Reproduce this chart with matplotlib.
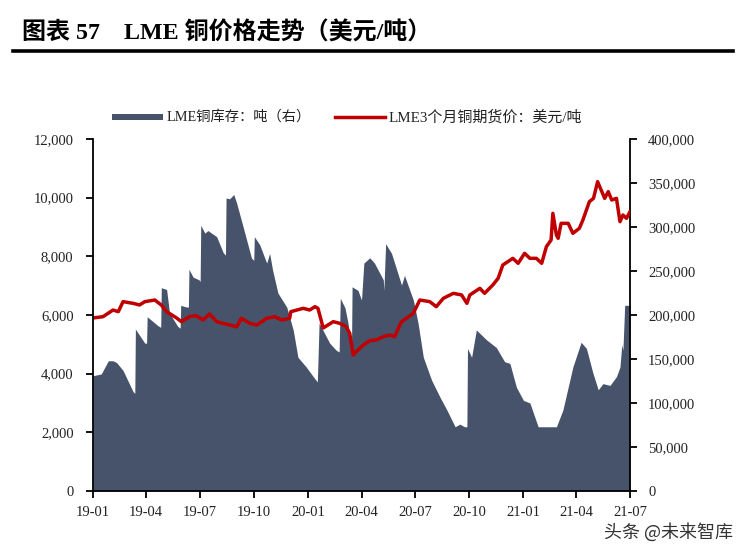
import matplotlib
matplotlib.use("Agg")
import matplotlib.pyplot as plt
import matplotlib.dates as mdates
from matplotlib.ticker import FuncFormatter, MultipleLocator
from matplotlib.lines import Line2D
from matplotlib.patches import Rectangle
import pandas as pd

# ---------------- data ----------------
stock_dates = [
    "2019-01-01", "2019-01-15", "2019-01-27", "2019-02-04", "2019-02-10", "2019-02-21",
    "2019-03-10", "2019-03-13", "2019-03-14", "2019-03-30", "2019-04-02", "2019-04-03",
    "2019-04-21", "2019-04-26", "2019-04-27", "2019-05-06", "2019-05-11", "2019-05-25",
    "2019-05-29", "2019-05-30", "2019-06-09", "2019-06-12", "2019-06-13", "2019-06-20",
    "2019-06-30", "2019-07-02", "2019-07-03", "2019-07-10", "2019-07-15", "2019-07-30",
    "2019-08-10", "2019-08-14", "2019-08-15", "2019-08-21", "2019-08-28", "2019-09-02",
    "2019-09-13", "2019-09-27", "2019-10-01", "2019-10-02", "2019-10-11", "2019-10-23",
    "2019-10-28", "2019-11-02", "2019-11-11", "2019-11-26", "2019-12-07", "2019-12-15",
    "2019-12-29", "2020-01-10", "2020-01-17", "2020-01-20", "2020-01-27", "2020-02-07",
    "2020-02-18", "2020-02-23", "2020-02-25", "2020-03-04", "2020-03-09", "2020-03-15",
    "2020-03-16", "2020-03-26", "2020-04-01", "2020-04-05", "2020-04-15", "2020-04-23",
    "2020-05-08", "2020-05-09", "2020-05-12", "2020-05-22", "2020-06-08", "2020-06-13",
    "2020-06-28", "2020-07-06", "2020-07-15", "2020-07-29", "2020-08-12", "2020-08-24",
    "2020-09-07", "2020-09-15", "2020-09-23", "2020-09-27", "2020-09-28", "2020-10-05",
    "2020-10-13", "2020-10-30", "2020-11-16", "2020-11-30", "2020-12-09", "2020-12-20",
    "2021-01-01", "2021-01-12", "2021-01-26", "2021-02-09", "2021-02-26", "2021-03-09",
    "2021-03-26", "2021-04-09", "2021-04-18", "2021-04-29", "2021-05-08", "2021-05-16",
    "2021-05-28", "2021-06-08", "2021-06-14", "2021-06-17", "2021-06-19", "2021-06-22",
    "2021-07-01",
]
stock_tons = [
    131000, 133000, 148000, 148000, 146000, 137000,
    113000, 111000, 184000, 168000, 168000, 198000,
    188000, 186000, 231000, 229000, 202000, 187000,
    185000, 211000, 209000, 209000, 252000, 243000,
    240000, 238000, 302000, 293000, 296000, 289000,
    271000, 268000, 333000, 332000, 337000, 327000,
    300000, 265000, 262000, 289000, 280000, 259000,
    270000, 251000, 225000, 209000, 183000, 152000,
    141000, 130000, 124000, 191000, 182000, 168000,
    160000, 158000, 219000, 208000, 191000, 160000,
    232000, 228000, 217000, 259000, 265000, 259000,
    240000, 228000, 281000, 270000, 234000, 245000,
    217000, 191000, 152000, 126000, 107000, 92000,
    73000, 76000, 73000, 73000, 162000, 152000,
    183000, 172000, 163000, 147000, 145000, 118000,
    103000, 100000, 73000, 73000, 73000, 92000,
    141000, 169000, 162000, 134000, 115000, 122000,
    120000, 130000, 141000, 166000, 160000, 211000,
    211000,
]

price_dates = [
    "2019-01-01", "2019-01-18", "2019-02-04", "2019-02-13", "2019-02-21", "2019-03-10",
    "2019-03-21", "2019-03-30", "2019-04-16", "2019-04-27", "2019-05-06", "2019-05-23",
    "2019-05-31", "2019-06-14", "2019-06-25", "2019-07-07", "2019-07-18", "2019-07-30",
    "2019-08-07", "2019-08-21", "2019-09-02", "2019-09-10", "2019-09-24", "2019-10-06",
    "2019-10-23", "2019-11-06", "2019-11-17", "2019-12-01", "2019-12-03", "2019-12-24",
    "2020-01-04", "2020-01-13", "2020-01-18", "2020-01-27", "2020-02-13", "2020-02-24",
    "2020-03-06", "2020-03-12", "2020-03-18", "2020-03-23", "2020-04-04", "2020-04-15",
    "2020-04-26", "2020-05-08", "2020-05-19", "2020-05-27", "2020-06-08", "2020-06-28",
    "2020-07-09", "2020-07-26", "2020-08-06", "2020-08-18", "2020-09-04", "2020-09-18",
    "2020-09-27", "2020-10-02", "2020-10-19", "2020-10-27", "2020-11-10", "2020-11-19",
    "2020-11-27", "2020-12-14", "2020-12-23", "2021-01-03", "2021-01-12", "2021-01-23",
    "2021-02-01", "2021-02-09", "2021-02-17", "2021-02-20", "2021-02-26", "2021-03-01",
    "2021-03-06", "2021-03-18", "2021-03-26", "2021-04-06", "2021-04-12", "2021-04-23",
    "2021-04-30", "2021-05-07", "2021-05-13", "2021-05-19", "2021-05-25", "2021-05-31",
    "2021-06-08", "2021-06-14", "2021-06-19", "2021-06-25", "2021-07-01",
]
price_usd = [
    5898, 5943, 6170, 6114, 6455, 6398,
    6341, 6455, 6511, 6341, 6114, 5898,
    5773, 5943, 5977, 5830, 6034, 5773,
    5727, 5659, 5602, 5886, 5716, 5659,
    5886, 5943, 5830, 5886, 6114, 6228,
    6170, 6284, 6228, 5557, 5773, 5716,
    5602, 5375, 4636, 4750, 4977, 5125,
    5148, 5261, 5318, 5261, 5773, 6057,
    6511, 6455, 6284, 6569, 6739, 6682,
    6398, 6682, 6910, 6739, 7023, 7250,
    7705, 7932, 7762, 8103, 7932, 7932,
    7762, 8330, 8557, 9466, 8727, 8615,
    9125, 9125, 8785, 8955, 9239, 9864,
    9977, 10545, 10261, 9977, 10205, 9920,
    9977, 9182, 9409, 9295, 9523,
]

x_tick_dates = ["2019-01-01", "2019-04-01", "2019-07-01", "2019-10-01", "2020-01-01",
                "2020-04-01", "2020-07-01", "2020-10-01", "2021-01-01", "2021-04-01",
                "2021-07-01"]

title_text = "图表 57    LME 铜价格走势（美元/吨）"
legend_stock = "LME铜库存：吨（右）"
legend_price = "LME3个月铜期货价：美元/吨"
watermark = "头条 @未来智库"

# ---------------- style ----------------
SERIF = ["Liberation Serif", "Noto Sans CJK SC", "DejaVu Sans"]
plt.rcParams["font.family"] = SERIF
FILL = "#46536a"
RED = "#c00000"
W, H = 747, 558

fig = plt.figure(figsize=(7.47, 5.58), dpi=100)
ax = fig.add_axes([93 / W, 1 - 491 / H, (630 - 93) / W, (491 - 139) / H])
ax2 = ax.twinx()

sd = pd.to_datetime(stock_dates)
pdt = pd.to_datetime(price_dates)

ax2.fill_between(sd, stock_tons, 0, color=FILL, linewidth=0)
ax.plot(pdt, price_usd, color=RED, linewidth=2.5, solid_joinstyle="round")

ax.set_zorder(ax2.get_zorder() + 1)
ax.patch.set_visible(False)

ax.set_xlim(pd.Timestamp("2019-01-01"), pd.Timestamp("2021-07-01"))
ax.set_ylim(0, 12000)
ax2.set_ylim(0, 400000)
ax.yaxis.set_major_locator(MultipleLocator(2000))
ax2.yaxis.set_major_locator(MultipleLocator(50000))
comma = FuncFormatter(lambda v, p: f"{int(v):,}")
ax.yaxis.set_major_formatter(comma)
ax2.yaxis.set_major_formatter(comma)
ax.set_xticks(pd.to_datetime(x_tick_dates))
ax.xaxis.set_major_formatter(mdates.DateFormatter("%y-%m"))

for a in (ax, ax2):
    a.spines["top"].set_visible(False)
    for s in ("left", "right", "bottom"):
        a.spines[s].set_color("black")
        a.spines[s].set_linewidth(1.3)
    a.tick_params(direction="out", length=5, width=1.3, colors="black",
                  labelsize=10.5, labelcolor="#222222")
ax.spines["right"].set_visible(False)
ax2.spines["left"].set_visible(False)
ax2.spines["bottom"].set_visible(False)
ax.tick_params(axis="y", pad=9)
ax2.tick_params(axis="y", pad=8)
ax.tick_params(axis="x", pad=6)
for lab in ax.get_xticklabels() + ax.get_yticklabels() + ax2.get_yticklabels():
    lab.set_family(SERIF)

# title and rule
fig.text(22 / W, 1 - 33 / H, title_text, fontsize=17.3, fontweight="bold",
         family=SERIF, va="center", ha="left", color="black")
fig.add_artist(Line2D([13 / W, 733 / W], [1 - 51 / H, 1 - 51 / H],
                      color="black", linewidth=2.6, transform=fig.transFigure))

# legend (drawn by hand to match placement)
ly = 1 - 117 / H
fig.add_artist(Rectangle((112 / W, 1 - 120 / H), 51 / W, 6 / H, facecolor=FILL,
                         edgecolor="none", transform=fig.transFigure))
fig.text(167 / W, ly, legend_stock, fontsize=10.3, family=SERIF, va="center",
         ha="left", color="#222222")
fig.add_artist(Line2D([335 / W, 385 / W], [ly, ly], color=RED, linewidth=2.5,
                      transform=fig.transFigure))
fig.text(389 / W, ly, legend_price, fontsize=10.8, family=SERIF, va="center",
         ha="left", color="#222222")

# watermark
fig.text(733 / W, 1 - 532 / H, watermark, fontsize=13, ha="right", va="center",
         family=["Noto Sans CJK SC", "DejaVu Sans"], color="#333333")

fig.savefig("out.png", dpi=100)
